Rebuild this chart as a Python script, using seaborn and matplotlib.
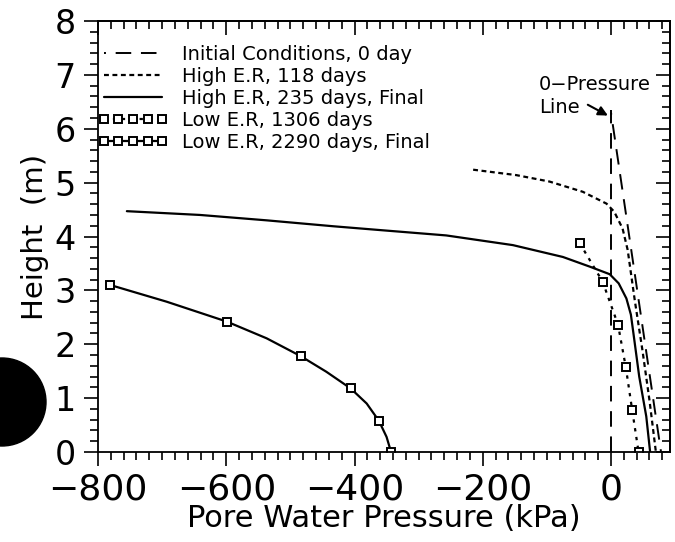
import numpy as np
import pandas as pd
import matplotlib
matplotlib.use("Agg")
import matplotlib.pyplot as plt
from matplotlib.patches import Ellipse
from matplotlib.lines import Line2D
from matplotlib.ticker import MultipleLocator
import seaborn as sns

# ---- data ----
init_x = [0, 78]
init_y = [6.3, 0.0]

zero_x = [0, 0]
zero_y = [0.0, 6.35]

high118_x = [-215, -148, -96, -44, -7, 5, 18, 26, 37, 49, 60, 70]
high118_y = [5.24, 5.14, 5.02, 4.83, 4.61, 4.46, 4.15, 3.75, 2.82, 1.89, 0.96, 0.0]

high235_x = [-755, -641, -537, -433, -361, -257, -153, -75, -33, -2, 12, 24, 31, 35, 44, 55, 61]
high235_y = [4.47, 4.40, 4.30, 4.19, 4.12, 4.02, 3.84, 3.62, 3.44, 3.30, 3.13, 2.85, 2.55, 2.20, 1.40, 0.66, 0.0]

low1306_x = [-49, -13, 11, 23, 33, 43]
low1306_y = [3.88, 3.16, 2.36, 1.58, 0.78, 0.0]

low2290_line_x = [-781, -693, -599, -537, -484, -444, -406, -381, -362, -350, -343]
low2290_line_y = [3.10, 2.79, 2.42, 2.11, 1.78, 1.49, 1.18, 0.90, 0.58, 0.28, 0.0]
low2290_mark_x = [-781, -599, -484, -406, -362, -343]
low2290_mark_y = [3.10, 2.42, 1.78, 1.18, 0.58, 0.0]

labels = ["Initial Conditions, 0 day", "High E.R, 118 days",
          "High E.R, 235 days, Final", "Low E.R, 1306 days",
          "Low E.R, 2290 days, Final"]

x_ticks = [-800, -600, -400, -200, 0]
y_ticks = [0, 1, 2, 3, 4, 5, 6, 7, 8]

sns.set_theme(style="ticks")
plt.rcParams["font.family"] = ["DejaVu Sans"]
for k in ["text.color", "axes.labelcolor", "xtick.color", "ytick.color", "axes.edgecolor"]:
    plt.rcParams[k] = "black"

fig = plt.figure(figsize=(6.75, 5.42), dpi=100)
ax = fig.add_axes([98/675, 90/542, 572/675, 431/542])

ls_init = (7, (8, 5))
ls_118 = (0, (2.2, 1.6))
ls_1306 = (0, (1.5, 2.5))
mk = dict(marker="s", markersize=5.5, markerfacecolor="white",
          markeredgecolor="black", markeredgewidth=1.4)

kw = dict(sort=False, estimator=None, color="black", ax=ax, legend=False)
sns.lineplot(x=init_x, y=init_y, lw=1.4, linestyle=ls_init, **kw)
sns.lineplot(x=zero_x, y=zero_y, lw=1.4, linestyle=(0, (8, 5)), **kw)
sns.lineplot(x=high118_x, y=high118_y, lw=1.6, linestyle=ls_118, **kw)
sns.lineplot(x=high235_x, y=high235_y, lw=1.6, linestyle="-", **kw)
sns.lineplot(x=low1306_x, y=low1306_y, lw=1.6, linestyle=ls_1306, **mk, **kw)
sns.lineplot(x=low2290_line_x, y=low2290_line_y, lw=1.6, linestyle="-", **kw)
sns.lineplot(x=low2290_mark_x, y=low2290_mark_y, lw=0, **mk, **kw)

ax.set_xlim(-800, 92)
ax.set_ylim(0, 8)
ax.set_xticks(x_ticks)
ax.set_xticklabels([f"\u2212{abs(v)}" if v < 0 else str(v) for v in x_ticks])
ax.set_yticks(y_ticks)
ax.xaxis.set_minor_locator(MultipleLocator(20))
ax.yaxis.set_minor_locator(MultipleLocator(0.2))

for s in ax.spines.values():
    s.set_visible(True)
    s.set_linewidth(1.3)
    s.set_color("black")

ax.tick_params(which="both", top=False, right=False, width=1.2, color="black", direction="out")
ax.tick_params(axis="x", which="major", length=10, labelsize=26, pad=5)
ax.tick_params(axis="x", which="minor", length=6)
ax.tick_params(axis="y", which="major", length=10, labelsize=24, pad=6)
ax.tick_params(axis="y", which="minor", length=6)

# inward ticks on top and right
secx = ax.secondary_xaxis("top")
secx.set_xticks(x_ticks)
secx.xaxis.set_minor_locator(MultipleLocator(20))
secx.tick_params(which="both", direction="in", labeltop=False, width=1.2, color="black")
secx.tick_params(which="major", length=10)
secx.tick_params(which="minor", length=6)
secy = ax.secondary_yaxis("right")
secy.set_yticks(y_ticks)
secy.yaxis.set_minor_locator(MultipleLocator(0.2))
secy.tick_params(which="both", direction="in", labelright=False, width=1.2, color="black")
secy.tick_params(which="major", length=10)
secy.tick_params(which="minor", length=6)
for sa in (secx, secy):
    for s in sa.spines.values():
        s.set_linewidth(1.3)

ax.set_xlabel("Pore Water Pressure (kPa)", fontsize=22, labelpad=-2)
ax.set_ylabel("Height  (m)", fontsize=21, labelpad=4)

handles = [
    Line2D([], [], color="black", lw=1.4, linestyle=ls_init),
    Line2D([], [], color="black", lw=1.6, linestyle=ls_118),
    Line2D([], [], color="black", lw=1.6, linestyle="-"),
    Line2D([], [], color="black", lw=1.6, linestyle=ls_1306, **mk),
    Line2D([], [], color="black", lw=1.6, linestyle="-", **mk),
]
ax.legend(handles, labels, loc="upper left", bbox_to_anchor=(0.0, 0.945), frameon=False,
          fontsize=14, handlelength=3.6, handletextpad=0.7,
          labelspacing=0.16, borderaxespad=0, borderpad=0, numpoints=5)

ax.text(-112, 6.82, "0\u2212Pressure", fontsize=14, ha="left", va="center")
ax.text(-112, 6.40, "Line", fontsize=14, ha="left", va="center")
ax.annotate("", xy=(-1, 6.22), xytext=(-40, 6.47),
            arrowprops=dict(arrowstyle="-|>", color="black", lw=1.5, mutation_scale=14))

fig.patches.append(Ellipse((2/675, 1 - 402/542), 88/675, 88/542,
                           transform=fig.transFigure, color="black", zorder=10))

fig.savefig("out.png", dpi=100)
